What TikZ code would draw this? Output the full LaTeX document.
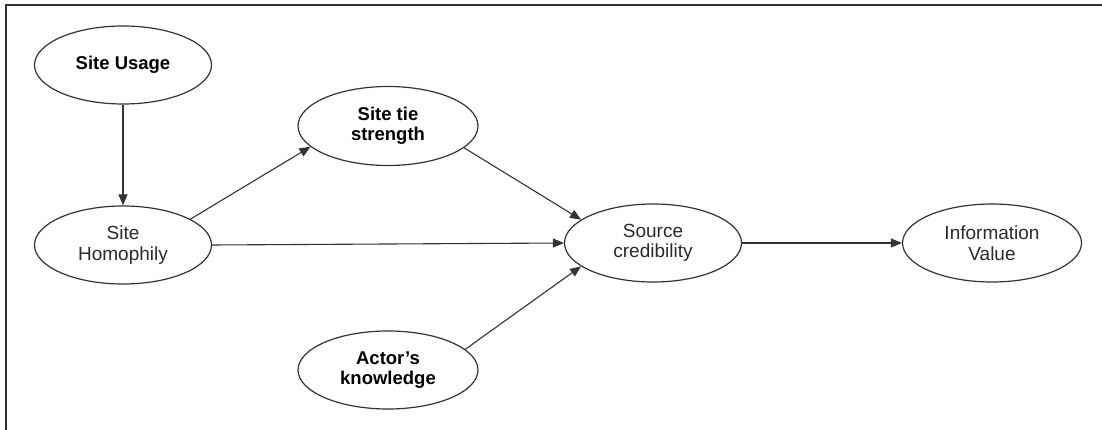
\documentclass[tikz,border=0pt]{standalone}
\usepackage{fontspec}
\setmainfont{Liberation Sans}
\usetikzlibrary{arrows.meta,shapes.geometric}
\definecolor{lc}{HTML}{333333}
\definecolor{tc}{HTML}{2A2A2A}
\begin{document}
\begin{tikzpicture}[x=1pt,y=-1pt,
  el/.style={ellipse, draw=lc, line width=1.2pt, minimum width=177pt, minimum height=78pt,
    inner sep=0pt, align=center, text=tc, font=\fontsize{19}{20.5}\selectfont},
  elb/.style={el, font=\fontsize{18.5}{20.5}\selectfont\bfseries, text=black},
  arr/.style={draw=lc, line width=1.1pt, -{Triangle[length=11pt,width=9pt]}},
  frame/.style={draw=lc, line width=1.4pt}]
\useasboundingbox (0,0) rectangle (1102,430);
\fill[white] (0,0) rectangle (1102,430);
\coordinate (tr) at (1102,5);
\coordinate (tl) at (6,5);
\coordinate (bl) at (6,430);
\draw[frame] (tr) -- (tl) -- (bl);
\node[elb] (use) at (123,65) {Site Usage};
\node[el] (hom) at (123,245) {Site\\Homophily};
\node[elb, minimum width=180pt, minimum height=79pt] (tie) at (388,126) {Site tie\\strength};
\node[el] (src) at (653,243) {Source\\credibility};
\node[el, minimum width=179pt] (info) at (992,243) {Information\\Value};
\node[elb, minimum width=180pt] (act) at (388,370) {Actor's\\knowledge};
\draw[arr] (use.south) -- (hom.north);
\draw[arr] (hom.21) -- (tie.195);
\draw[arr] (hom.east) -- (src.west);
\draw[arr] (tie.-16) -- (src.162);
\draw[arr] (act.15) -- (src.198);
\draw[arr] (src.east) -- (info.west);
\end{tikzpicture}
\end{document}
